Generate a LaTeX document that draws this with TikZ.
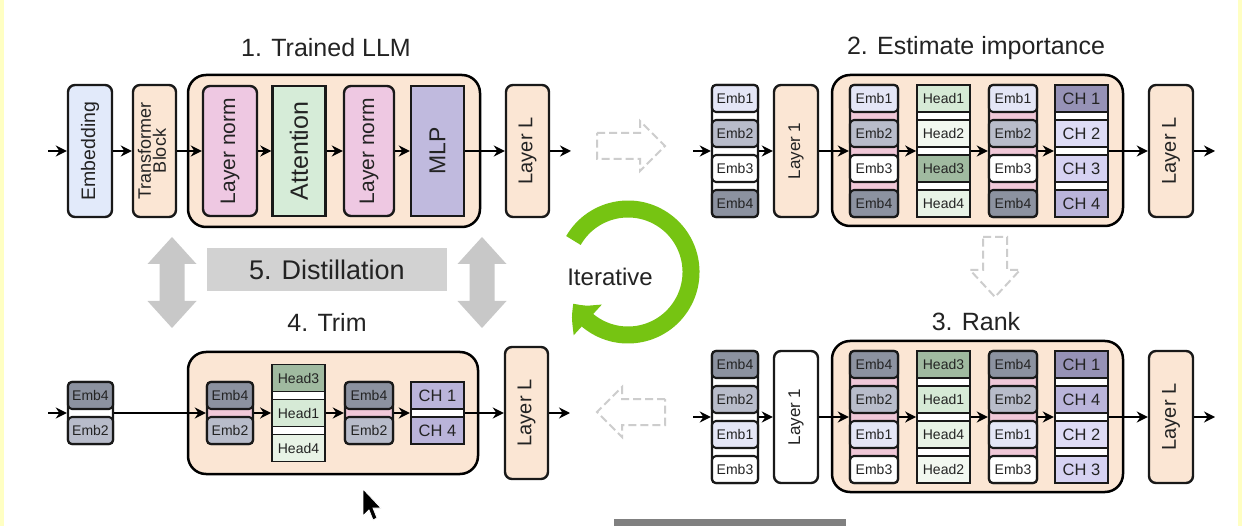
\documentclass[tikz,border=0pt]{standalone}
\usepackage{fontspec}
\setmainfont{Liberation Sans}
\usetikzlibrary{arrows.meta,bending,positioning}
\definecolor{txt}{RGB}{35,35,35}
\definecolor{linec}{RGB}{25,25,25}
\definecolor{peach}{RGB}{251,230,212}
\definecolor{embblue}{RGB}{226,234,250}
\definecolor{lnpink}{RGB}{238,200,226}
\definecolor{attgreen}{RGB}{214,236,216}
\definecolor{mlppurple}{RGB}{192,186,222}
\definecolor{gappink}{RGB}{240,200,216}
\definecolor{embA}{RGB}{228,230,246}
\definecolor{embB}{RGB}{184,188,202}
\definecolor{embD}{RGB}{140,146,160}
\definecolor{hdA}{RGB}{214,234,214}
\definecolor{hdB}{RGB}{242,248,240}
\definecolor{hdC}{RGB}{160,186,160}
\definecolor{hdD}{RGB}{232,243,230}
\definecolor{chA}{RGB}{150,146,182}
\definecolor{chB}{RGB}{222,220,246}
\definecolor{chC}{RGB}{214,210,242}
\definecolor{chD}{RGB}{186,180,218}
\definecolor{distgray}{RGB}{210,210,210}
\definecolor{arrgray}{RGB}{200,200,200}
\definecolor{dashgray}{RGB}{205,205,205}
\definecolor{nvgreen}{RGB}{118,196,18}
\definecolor{edgeyel}{RGB}{255,255,195}
\definecolor{barcol}{RGB}{128,128,128}
\tikzset{
  title/.style={font=\fontsize{25}{30}\selectfont, text=txt},
  outerblk/.style={draw=black, line width=2.5pt, rounded corners=18pt, fill=peach, inner sep=0pt},
  layerbox/.style={draw=linec, line width=2.4pt, rounded corners=7pt, fill=peach, inner sep=0pt, minimum height=132pt, text=txt},
  colframe/.style={draw=linec, line width=2.4pt, inner sep=0pt},
  cellbox/.style={draw=linec, line width=2.1pt, inner sep=0pt, minimum height=27pt, text=txt},
  embcell/.style={rounded corners=4pt, font=\fontsize{14}{16}\selectfont},
  headcell/.style={line width=1.7pt, font=\fontsize{14}{16}\selectfont},
  chcell/.style={font=\fontsize{16.5}{18}\selectfont},
  arr/.style={-{Stealth[length=11pt,width=11pt]}, line width=2.7pt},
  hollowarr/.style={draw=dashgray, fill=white, line width=2pt, dash pattern=on 8pt off 4pt},
}
% #1 name, #2 x, #3 centre y, #4 width, #5 gap colour, #6 cell style, #7 label/colour list
\newcommand{\stackcol}[7]{%
  \foreach \lab/\col [count=\k] in {#7} {\xdef\ncells{\k}}%
  \node[colframe, #6, fill=#5, minimum width=#4, minimum height={\ncells*35-8}] (#1) at (#2,#3) {};
  \foreach \lab/\col [count=\k] in {#7}
    \node[cellbox, #6, fill=\col, minimum width=#4] (#1-\k) at (#2,{#3-(\ncells*35-8)/2+13.5+(\k-1)*35}) {\lab};
}
\begin{document}
\begin{tikzpicture}[x=1pt,y=-1pt,line width=1.8pt]
\useasboundingbox (0,0) rectangle (1242,526);
\fill[white] (0,0) rectangle (1242,526);
\fill[edgeyel] (0,0) rectangle (4,526);
\fill[edgeyel] (1238,0) rectangle (1242,526);

% 1. trained model
\node[title] (t1) at (326,48) {1. Trained LLM};
\node[outerblk, minimum width=292pt, minimum height=152pt] (p1) at (334,151) {};
\node[layerbox, fill=embblue, minimum width=44pt, font=\fontsize{19.5}{22}\selectfont] (emb) at (90,151) {\rotatebox{90}{Embedding}};
\node[layerbox, minimum width=43pt, font=\fontsize{18}{19}\selectfont] (tb) at (154.5,151) {\rotatebox{90}{\begin{tabular}{@{}c@{}}Transformer\\[-4pt]Block\end{tabular}}};
\node[layerbox, fill=lnpink, minimum width=54pt, minimum height=130pt, font=\fontsize{21}{24}\selectfont] (ln1) at (230,151) {\rotatebox{90}{Layer norm}};
\node[layerbox, sharp corners, fill=attgreen, minimum width=53pt, minimum height=130pt, font=\fontsize{25}{28}\selectfont] (att) at (299,151) {\rotatebox{90}{Attention}};
\node[layerbox, fill=lnpink, minimum width=50pt, minimum height=130pt, font=\fontsize{21}{24}\selectfont] (ln2) at (369,151) {\rotatebox{90}{Layer norm}};
\node[layerbox, sharp corners, fill=mlppurple, minimum width=53pt, minimum height=130pt, font=\fontsize{23}{26}\selectfont] (mlp) at (437.5,151) {\rotatebox{90}{MLP}};
\node[layerbox, minimum width=43pt, font=\fontsize{20}{22}\selectfont] (aLL) at (527.5,151) {\rotatebox{90}{Layer L}};
\coordinate (in1) at (48,151);
\coordinate (out1) at (571,151);
\draw[arr] (in1) -- (emb);
\draw[arr] (emb) -- (tb);
\draw[arr] (tb) -- (ln1);
\draw[arr] (ln1) -- (att);
\draw[arr] (att) -- (ln2);
\draw[arr] (ln2) -- (mlp);
\draw[arr] (mlp) -- (aLL);
\draw[arr] (aLL) -- (out1);

% 2. estimate importance
\node[title] (t2) at (976,48) {2. Estimate importance};
\node[outerblk, minimum width=291pt, minimum height=151pt] (p2) at (977.5,150.5) {};
\stackcol{bE}{735}{151}{46}{white}{embcell}{Emb1/embA,Emb2/embB,Emb3/white,Emb4/embD}
\node[layerbox, minimum width=44pt, font=\fontsize{17}{19}\selectfont] (bL1) at (796,151) {\rotatebox{90}{Layer 1}};
\stackcol{bEa}{874}{151}{48}{gappink}{embcell}{Emb1/embA,Emb2/embB,Emb3/white,Emb4/embD}
\stackcol{bH}{943.5}{151}{53}{white}{headcell}{Head1/hdA,Head2/hdB,Head3/hdC,Head4/hdD}
\stackcol{bEb}{1013}{151}{48}{gappink}{embcell}{Emb1/embA,Emb2/embB,Emb3/white,Emb4/embD}
\stackcol{bC}{1081.5}{151}{53}{white}{chcell}{CH 1/chA,CH 2/chB,CH 3/chC,CH 4/chD}
\node[layerbox, minimum width=44pt, font=\fontsize{20}{22}\selectfont] (bLL) at (1171,151) {\rotatebox{90}{Layer L}};
\coordinate (in2) at (693,151);
\coordinate (out2) at (1215,151);
\draw[arr] (in2) -- (bE);
\draw[arr] (bE) -- (bL1);
\draw[arr] (bL1) -- (bEa);
\draw[arr] (bEa) -- (bH);
\draw[arr] (bH) -- (bEb);
\draw[arr] (bEb) -- (bC);
\draw[arr] (bC) -- (bLL);
\draw[arr] (bLL) -- (out2);

% 3. rank
\node[title] (t3) at (976,322) {3. Rank};
\node[outerblk, minimum width=291pt, minimum height=151pt] (p3) at (977.5,416.5) {};
\stackcol{cE}{735}{417}{46}{white}{embcell}{Emb4/embD,Emb2/embB,Emb1/embA,Emb3/white}
\node[layerbox, fill=white, minimum width=44pt, font=\fontsize{17}{19}\selectfont] (cL1) at (796,417) {\rotatebox{90}{Layer 1}};
\stackcol{cEa}{874}{417}{48}{gappink}{embcell}{Emb4/embD,Emb2/embB,Emb1/embA,Emb3/white}
\stackcol{cH}{943.5}{417}{53}{white}{headcell}{Head3/hdC,Head1/hdA,Head4/hdD,Head2/hdB}
\stackcol{cEb}{1013}{417}{48}{gappink}{embcell}{Emb4/embD,Emb2/embB,Emb1/embA,Emb3/white}
\stackcol{cC}{1081.5}{417}{53}{white}{chcell}{CH 1/chA,CH 4/chD,CH 2/chB,CH 3/chC}
\node[layerbox, minimum width=44pt, font=\fontsize{20}{22}\selectfont] (cLL) at (1171,417) {\rotatebox{90}{Layer L}};
\coordinate (in3) at (693,417);
\coordinate (out3) at (1215,417);
\draw[arr] (in3) -- (cE);
\draw[arr] (cE) -- (cL1);
\draw[arr] (cL1) -- (cEa);
\draw[arr] (cEa) -- (cH);
\draw[arr] (cH) -- (cEb);
\draw[arr] (cEb) -- (cC);
\draw[arr] (cC) -- (cLL);
\draw[arr] (cLL) -- (out3);

% 4. trim
\node[title] (t4) at (327,322) {4. Trim};
\node[outerblk, minimum width=290pt, minimum height=122pt] (p4) at (333,413) {};
\stackcol{dE}{90.5}{413}{45}{white}{embcell}{Emb4/embD,Emb2/embB}
\stackcol{dEa}{230}{413}{46}{gappink}{embcell}{Emb4/embD,Emb2/embB}
\stackcol{dH}{298.5}{413}{53}{white}{headcell}{Head3/hdC,Head1/hdA,Head4/hdD}
\stackcol{dEb}{369}{413}{48}{gappink}{embcell}{Emb4/embD,Emb2/embB}
\stackcol{dC}{437.5}{413}{53}{white}{chcell}{CH 1/chD,CH 4/chD}
\node[layerbox, minimum width=43pt, font=\fontsize{20}{22}\selectfont] (dLL) at (526.5,413) {\rotatebox{90}{Layer L}};
\coordinate (in4) at (48,413);
\coordinate (out4) at (570,413);
\draw[arr] (in4) -- (dE);
\draw[arr] (dE) -- (dEa);
\draw[arr] (dEa) -- (dH);
\draw[arr] (dH) -- (dEb);
\draw[arr] (dEb) -- (dC);
\draw[arr] (dC) -- (dLL);
\draw[arr] (dLL) -- (out4);

% 5. distillation
\node[fill=distgray, minimum width=240pt, minimum height=43pt, inner sep=0pt, text=txt, font=\fontsize{27}{30}\selectfont] (dist) at (327,269.5) {5. Distillation};
\foreach \cx in {172,482}
  \fill[arrgray] (\cx,237) -- ++(24.5,27) -- ++(-12,0) -- ++(0,37) -- ++(12,0) -- ++(-24.5,27)
    -- ++(-24.5,-27) -- ++(12,0) -- ++(0,-37) -- ++(-12,0) -- cycle;

% step arrows
\draw[hollowarr] (597,133) -- (640,133) -- (640,121) -- (665,146) -- (640,171) -- (640,159) -- (597,159) -- cycle;
\draw[hollowarr] (983,237) -- (1007,237) -- (1007,270) -- (1020,270) -- (995,297) -- (970,270) -- (983,270) -- cycle;
\draw[hollowarr] (665,399) -- (622,399) -- (622,387) -- (597,412) -- (622,437) -- (622,425) -- (665,425) -- cycle;

% iterative loop
\draw[line width=17pt, draw=nvgreen, -{Triangle[bend,length=22pt,width=40pt]}] (628,272) ++(-150:63) arc[start angle=-150, end angle=150, radius=63];
\node[text=txt, font=\fontsize{24}{28}\selectfont] (iter) at (610,277) {Iterative};

% screen capture leftovers
\filldraw[fill=black, draw=white, line width=0.8pt] (363,489) -- (363,516) -- (369,510) -- (373,520) -- (377,518) -- (373,508) -- (381,508) -- cycle;
\fill[barcol] (614,519) rectangle (846,526);
\end{tikzpicture}
\end{document}
